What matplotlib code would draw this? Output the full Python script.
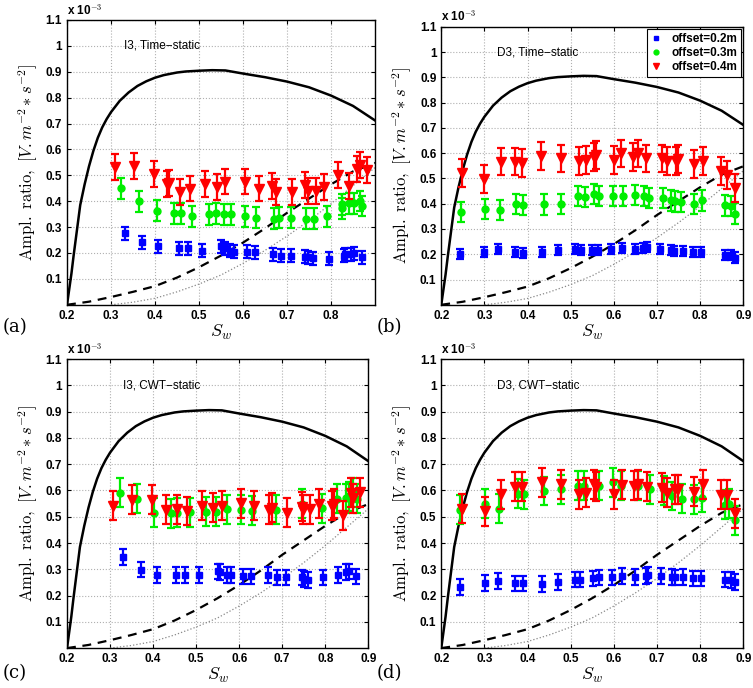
import matplotlib
matplotlib.use('Agg')
import matplotlib.pyplot as plt
from matplotlib.lines import Line2D
from matplotlib.ticker import FuncFormatter

plt.rcParams['font.family'] = ['Liberation Sans', 'DejaVu Sans']
plt.rcParams['mathtext.fontset'] = 'cm'

# model curves (same in every panel)
sw_solid = [0.20, 0.205, 0.21, 0.215, 0.22, 0.23, 0.24, 0.25, 0.26, 0.27, 0.28, 0.29, 0.30, 0.32,
            0.34, 0.36, 0.38, 0.40, 0.42, 0.45, 0.47, 0.50, 0.53, 0.56, 0.60, 0.65, 0.70, 0.75,
            0.80, 0.85, 0.90]
amp_solid = [0.0, 0.06, 0.12, 0.19, 0.255, 0.385, 0.465, 0.535, 0.595, 0.645, 0.685, 0.717, 0.744,
             0.788, 0.82, 0.845, 0.863, 0.877, 0.887, 0.897, 0.901, 0.904, 0.906, 0.905, 0.893,
             0.879, 0.862, 0.84, 0.808, 0.768, 0.712]
sw_dash = [0.20, 0.25, 0.30, 0.35, 0.40, 0.45, 0.50, 0.55, 0.60, 0.65, 0.70, 0.75, 0.80, 0.85, 0.90]
amp_dash = [0.0, 0.012, 0.03, 0.05, 0.072, 0.105, 0.145, 0.19, 0.24, 0.295, 0.355, 0.41, 0.465, 0.515, 0.548]
sw_dot = [0.30, 0.35, 0.40, 0.45, 0.50, 0.55, 0.60, 0.65, 0.70, 0.75, 0.80, 0.85, 0.90]
amp_dot = [0.0, 0.01, 0.025, 0.05, 0.08, 0.115, 0.16, 0.21, 0.265, 0.325, 0.39, 0.46, 0.53]

# (a) I3, Time-static
a_sw_02 = [0.331, 0.371, 0.407, 0.454, 0.474, 0.507, 0.55, 0.558, 0.571, 0.58, 0.609, 0.627,
           0.669, 0.686, 0.708, 0.742, 0.747, 0.759, 0.795, 0.829, 0.831, 0.846, 0.853, 0.87]
a_amp_02 = [0.277, 0.241, 0.226, 0.219, 0.218, 0.209, 0.226, 0.219, 0.209, 0.205, 0.205, 0.203,
            0.196, 0.19, 0.19, 0.186, 0.183, 0.179, 0.177, 0.19, 0.196, 0.196, 0.199, 0.183]
a_sw_03 = [0.323, 0.364, 0.404, 0.443, 0.458, 0.485, 0.522, 0.539, 0.556, 0.573, 0.605, 0.629,
           0.671, 0.682, 0.71, 0.744, 0.761, 0.791, 0.825, 0.826, 0.842, 0.853, 0.866, 0.871]
a_amp_03 = [0.45, 0.399, 0.363, 0.353, 0.353, 0.341, 0.35, 0.353, 0.35, 0.35, 0.341, 0.337,
            0.333, 0.337, 0.337, 0.333, 0.333, 0.341, 0.388, 0.373, 0.392, 0.392, 0.401, 0.382]
a_sw_04 = [0.308, 0.353, 0.398, 0.428, 0.431, 0.456, 0.479, 0.514, 0.541, 0.559, 0.605, 0.637,
           0.665, 0.676, 0.712, 0.742, 0.747, 0.765, 0.785, 0.816, 0.842, 0.86, 0.865, 0.881]
a_amp_04 = [0.533, 0.536, 0.506, 0.465, 0.47, 0.436, 0.449, 0.465, 0.456, 0.476, 0.476, 0.449,
            0.459, 0.437, 0.437, 0.463, 0.44, 0.44, 0.456, 0.501, 0.459, 0.525, 0.54, 0.52]
a_err = [0.025, 0.04, 0.05]

# (b) D3, Time-static
b_sw_02 = [0.243, 0.3, 0.331, 0.372, 0.39, 0.434, 0.471, 0.51, 0.525, 0.55, 0.564, 0.594, 0.619,
           0.649, 0.668, 0.677, 0.708, 0.732, 0.739, 0.76, 0.783, 0.803, 0.857, 0.871, 0.882]
b_amp_02 = [0.2, 0.21, 0.221, 0.21, 0.204, 0.21, 0.217, 0.221, 0.217, 0.217, 0.217, 0.221, 0.226,
            0.221, 0.226, 0.23, 0.221, 0.217, 0.213, 0.213, 0.21, 0.21, 0.197, 0.197, 0.187]
b_sw_03 = [0.246, 0.302, 0.336, 0.374, 0.39, 0.439, 0.478, 0.517, 0.533, 0.555, 0.565, 0.599, 0.622,
           0.65, 0.67, 0.681, 0.714, 0.732, 0.743, 0.755, 0.786, 0.805, 0.857, 0.871, 0.882]
b_amp_03 = [0.367, 0.378, 0.374, 0.4, 0.396, 0.397, 0.4, 0.43, 0.426, 0.439, 0.432, 0.432, 0.43,
            0.435, 0.432, 0.424, 0.422, 0.413, 0.409, 0.406, 0.4, 0.413, 0.393, 0.39, 0.361]
b_sw_04 = [0.248, 0.3, 0.339, 0.371, 0.387, 0.432, 0.478, 0.519, 0.536, 0.554, 0.558, 0.6, 0.617,
           0.645, 0.656, 0.675, 0.712, 0.724, 0.745, 0.749, 0.787, 0.807, 0.848, 0.863, 0.882]
b_amp_04 = [0.521, 0.498, 0.567, 0.567, 0.56, 0.589, 0.579, 0.569, 0.573, 0.586, 0.592, 0.573, 0.599,
            0.586, 0.599, 0.579, 0.579, 0.569, 0.569, 0.576, 0.556, 0.569, 0.53, 0.513, 0.461]
b_err = [0.02, 0.04, 0.055]

# (c) I3, CWT-static
c_sw_02 = [0.329, 0.371, 0.408, 0.454, 0.474, 0.506, 0.55, 0.556, 0.572, 0.581, 0.609, 0.627,
           0.668, 0.688, 0.708, 0.746, 0.751, 0.759, 0.796, 0.83, 0.848, 0.856, 0.871]
c_amp_02 = [0.347, 0.299, 0.279, 0.279, 0.279, 0.277, 0.292, 0.29, 0.277, 0.277, 0.273, 0.273,
            0.277, 0.269, 0.269, 0.269, 0.262, 0.26, 0.269, 0.279, 0.29, 0.292, 0.273]
c_sw_03 = [0.322, 0.363, 0.402, 0.441, 0.456, 0.485, 0.522, 0.546, 0.572, 0.604, 0.631, 0.686,
           0.746, 0.792, 0.827, 0.848, 0.856, 0.865, 0.873]
c_amp_03 = [0.591, 0.569, 0.516, 0.513, 0.516, 0.517, 0.519, 0.519, 0.528, 0.526, 0.523, 0.526,
            0.549, 0.532, 0.568, 0.571, 0.578, 0.591, 0.568]
c_sw_04 = [0.307, 0.352, 0.397, 0.429, 0.456, 0.479, 0.514, 0.539, 0.56, 0.604, 0.635, 0.67, 0.676,
           0.712, 0.746, 0.749, 0.765, 0.785, 0.815, 0.82, 0.842, 0.859, 0.864, 0.881]
c_amp_04 = [0.542, 0.565, 0.565, 0.526, 0.529, 0.522, 0.542, 0.535, 0.542, 0.552, 0.542, 0.526, 0.535,
            0.516, 0.539, 0.526, 0.529, 0.549, 0.542, 0.55, 0.506, 0.591, 0.571, 0.594]
c_err = [0.03, 0.055, 0.055]

# (d) D3, CWT-static
d_sw_02 = [0.243, 0.301, 0.332, 0.372, 0.39, 0.434, 0.471, 0.511, 0.522, 0.551, 0.565, 0.595, 0.619,
           0.648, 0.674, 0.679, 0.71, 0.734, 0.741, 0.761, 0.784, 0.803, 0.858, 0.871, 0.882]
d_amp_02 = [0.233, 0.248, 0.255, 0.246, 0.246, 0.243, 0.252, 0.261, 0.261, 0.265, 0.269, 0.269, 0.274,
            0.272, 0.274, 0.278, 0.274, 0.272, 0.269, 0.272, 0.265, 0.265, 0.261, 0.259, 0.252]
d_sw_03 = [0.244, 0.302, 0.335, 0.378, 0.391, 0.439, 0.478, 0.517, 0.531, 0.566, 0.599, 0.617,
           0.657, 0.683, 0.716, 0.736, 0.757, 0.786, 0.805, 0.858, 0.868, 0.881]
d_amp_03 = [0.526, 0.55, 0.53, 0.588, 0.585, 0.598, 0.605, 0.618, 0.618, 0.618, 0.631, 0.618,
            0.618, 0.605, 0.601, 0.579, 0.569, 0.566, 0.572, 0.546, 0.549, 0.487]
d_sw_04 = [0.248, 0.301, 0.339, 0.372, 0.387, 0.434, 0.478, 0.519, 0.536, 0.555, 0.559, 0.6, 0.618,
           0.646, 0.657, 0.676, 0.712, 0.724, 0.743, 0.749, 0.786, 0.807, 0.848, 0.863, 0.882]
d_amp_04 = [0.53, 0.52, 0.585, 0.614, 0.614, 0.631, 0.624, 0.585, 0.592, 0.624, 0.614, 0.585, 0.622,
            0.618, 0.624, 0.614, 0.611, 0.592, 0.605, 0.605, 0.596, 0.624, 0.583, 0.583, 0.513]
d_err = [0.03, 0.055, 0.055]

titles = ['I3, Time\u2212static', 'D3, Time\u2212static', 'I3, CWT\u2212static', 'D3, CWT\u2212static']
panel_tags = ['(a)', '(b)', '(c)', '(d)']
legend_labels = ['offset=0.2m', 'offset=0.3m', 'offset=0.4m']

panels = [
    (a_sw_02, a_amp_02, a_sw_03, a_amp_03, a_sw_04, a_amp_04, a_err),
    (b_sw_02, b_amp_02, b_sw_03, b_amp_03, b_sw_04, b_amp_04, b_err),
    (c_sw_02, c_amp_02, c_sw_03, c_amp_03, c_sw_04, c_amp_04, c_err),
    (d_sw_02, d_amp_02, d_sw_03, d_amp_03, d_sw_04, d_amp_04, d_err),
]
positions = [
    [0.089, 0.557, 0.409, 0.414],
    [0.586, 0.557, 0.401, 0.404],
    [0.089, 0.058, 0.400, 0.420],
    [0.586, 0.058, 0.401, 0.420],
]
tag_pos = [(0.003, 0.518), (0.5, 0.518), (0.003, 0.015), (0.5, 0.015)]

colors = ['#0000ff', '#00ee00', '#ff0000']
markers = ['s', 'o', 'v']
msizes = [4.5, 5, 6.5]

fig = plt.figure(figsize=(7.53, 6.88), dpi=100)
fmt = FuncFormatter(lambda v, p: ('%g' % round(v, 2)))

for i, (pdata, pos) in enumerate(zip(panels, positions)):
    ax = fig.add_axes(pos)
    ax.plot(sw_solid, amp_solid, '-', color='k', lw=1.8, zorder=2)
    ax.plot(sw_dash, amp_dash, '--', color='k', lw=1.6, dashes=(4, 3), zorder=2)
    ax.plot(sw_dot, amp_dot, ':', color='#888888', lw=0.9, zorder=2)
    errs = pdata[6]
    for k in range(3):
        ax.errorbar(pdata[2 * k], pdata[2 * k + 1], yerr=errs[k], fmt=markers[k],
                    color=colors[k], ms=msizes[k], elinewidth=1.6, capsize=3,
                    capthick=1.6, zorder=3 + k)
    ax.set_xlim(0.2, 0.9)
    ax.set_ylim(0, 1.1)
    if i == 0:
        ax.set_xticks([0.2, 0.3, 0.4, 0.5, 0.6, 0.7, 0.8])
    else:
        ax.set_xticks([0.2, 0.3, 0.4, 0.5, 0.6, 0.7, 0.8, 0.9])
    ax.set_yticks([0.1, 0.2, 0.3, 0.4, 0.5, 0.6, 0.7, 0.8, 0.9, 1.0, 1.1])
    ax.xaxis.set_major_formatter(fmt)
    ax.yaxis.set_major_formatter(fmt)
    ax.tick_params(direction='in', top=True, right=True, length=3, labelsize=8.5)
    for lab in ax.get_xticklabels() + ax.get_yticklabels():
        lab.set_fontweight('bold')
    ax.grid(True, linestyle=':', color='#b0b0b0', lw=0.8)
    ax.set_axisbelow(True)
    for s in ax.spines.values():
        s.set_linewidth(1.0)
    ax.set_xlabel(r'$S_w$', fontsize=13, labelpad=1)
    ax.set_ylabel(r'$\mathrm{Ampl.\ ratio,}\ [V.m^{-2}*s^{-2}]$', fontsize=12, labelpad=4)
    ax.text(0.33, 1.0, titles[i], fontsize=8.5, va='center')
    ax.text(0.0, 1.01, r'x 10$^{-3}$', transform=ax.transAxes, fontsize=8.5,
            fontweight='bold', va='bottom')
    fig.text(tag_pos[i][0], tag_pos[i][1], panel_tags[i], fontsize=13, family='DejaVu Serif')
    if i == 1:
        handles = [Line2D([], [], ls='none', marker=markers[k], color=colors[k], ms=msizes[k] - 1.5)
                   for k in range(3)]
        leg = ax.legend(handles, legend_labels, loc='upper right', fancybox=False,
                        edgecolor='k', framealpha=1, prop={'weight': 'bold', 'size': 8.5},
                        handlelength=1.0, handletextpad=0.8, borderpad=0.3, labelspacing=0.2,
                        borderaxespad=0.2)
        leg.get_frame().set_linewidth(0.8)

fig.savefig('out.png', dpi=100)
